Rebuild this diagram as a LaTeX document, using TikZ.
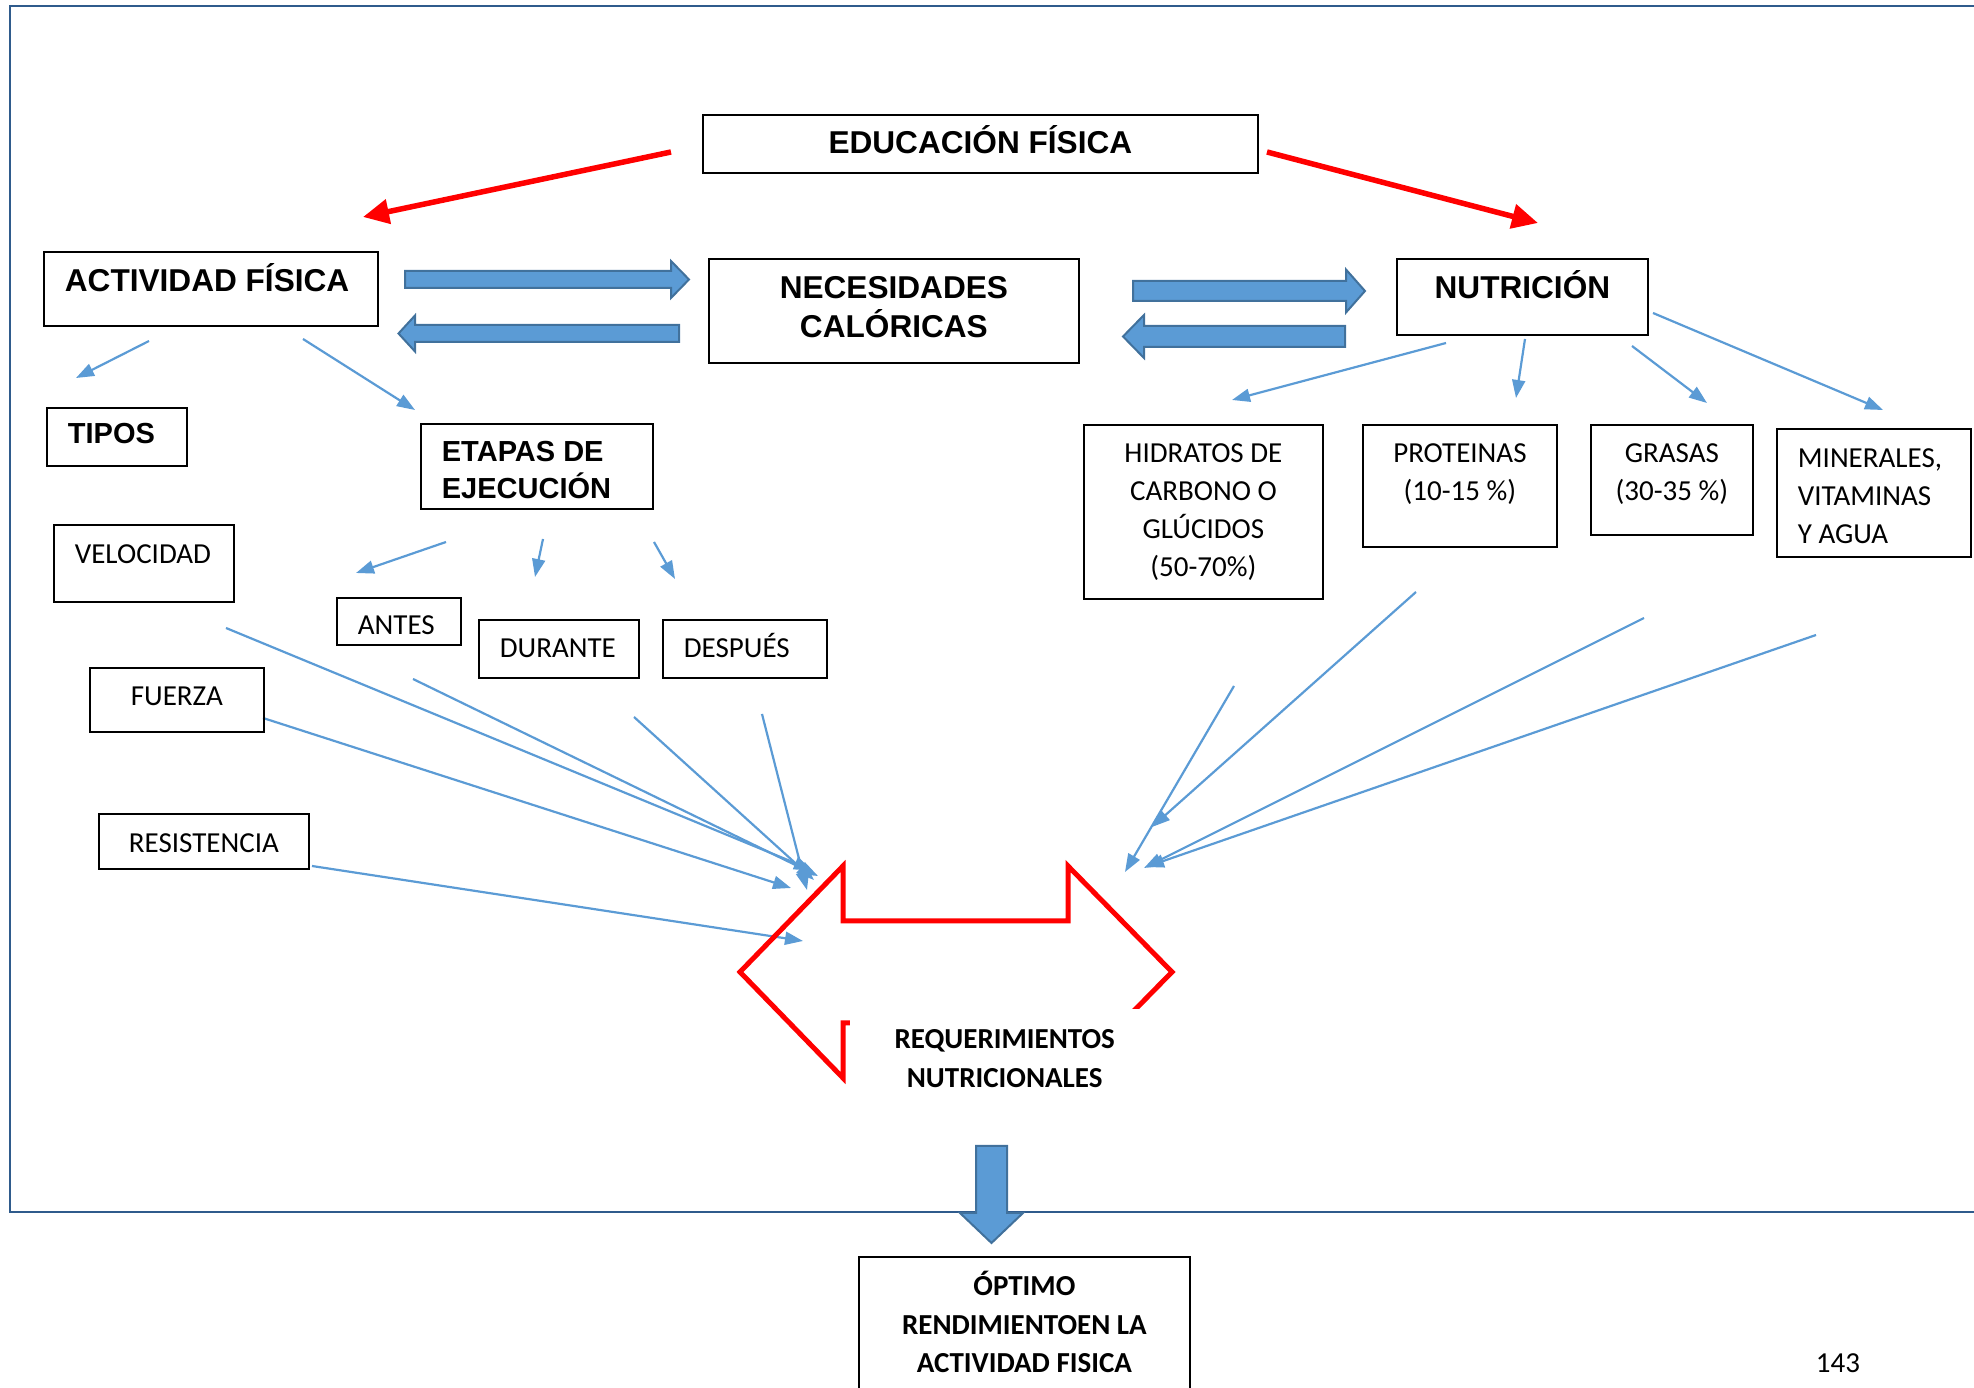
\documentclass[tikz,border=0pt]{standalone}
\usepackage{fontspec}
\setmainfont{Carlito}
\newfontfamily\arialfam{Liberation Sans}
\usetikzlibrary{arrows.meta}
\definecolor{azul}{HTML}{5B9BD5}
\definecolor{azulosc}{HTML}{41719C}
\definecolor{marco}{HTML}{2F5B8C}

\tikzset{
  caja/.style={draw, line width=0.18mm, anchor=north west, inner xsep=2.1mm, inner ysep=0pt},
  arialb/.style={font={\fontsize{3.16mm}{#1}\selectfont\arialfam\bfseries}},
  arialb/.default=3.9mm,
  arialp/.style={font={\fontsize{2.9mm}{#1}\selectfont\arialfam\bfseries}},
  arialp/.default=3.65mm,
  calib/.style={font={\fontsize{2.9mm}{#1}\selectfont}},
  calib/.default=3.8mm,
  calibb/.style={font={\fontsize{2.9mm}{#1}\selectfont\bfseries}},
  calibb/.default=3.85mm,
  flecha/.style={draw=azul, line width=0.22mm, -{Triangle[length=1.8mm,width=1.3mm]}},
  roja/.style={draw=red, line width=0.55mm, -{Triangle[length=2.6mm,width=2.4mm]}},
  bloque/.style={draw=azulosc, fill=azul, line width=0.2mm}
}

\begin{document}
\begin{tikzpicture}[x=0.1mm, y=-0.1mm]
  \useasboundingbox (0,0) rectangle (1974,1388);
  \clip (0,0) rectangle (1974,1388);
  % marco de la pagina
  \draw[marco, line width=0.28mm] (1974,6) -| (10,1212) -- (1974,1212);

  % flechas finas
  \foreach \i/\xa/\ya/\xb/\yb in {
    1/149/341/76/378, 2/303/339/415/410, 3/446/542/356/573, 4/543/539/535/577,
    5/654/542/675/579, 6/1446/343/1232/400, 7/1525/339/1516/398,
    8/1632/346/1707/403, 9/1653/313/1883/410,
    10/226/628/812/870, 11/413/679/818/876, 12/634/717/814/880, 13/762/714/807/890,
    14/263/718/791/888, 15/312/866/803/941,
    16/1234/686/1125/872, 17/1416/592/1152/827, 18/1644/618/1144/868, 19/1816/635/1146/867
  } {
    \coordinate (s\i) at (\xa,\ya);
    \coordinate (e\i) at (\xb,\yb);
    \draw[flecha] (s\i) -- (e\i);
  }

  % flecha doble de los requerimientos
  \draw[red, line width=0.5mm] (740,972) -- (843,866) -- (843,921) -- (1068,921) -- (1068,866)
    -- (1172,972) -- (1068,1078) -- (1068,1023) -- (843,1023) -- (843,1078) -- cycle;
  \node[fill=white, anchor=north west, inner xsep=2.1mm, inner ysep=0pt, calibb,
        text width=26.8mm, align=flush center, text height=4mm, text depth=5.2mm] (req) at (849,1008)
        {REQUERIMIENTOS\\NUTRICIONALES};

  % cajas
  \node[caja, arialb, text width=51.3mm, align=flush center, text height=3.9mm, text depth=1.9mm] (edu) at (702,114) {EDUCACIÓN FÍSICA};
  \node[caja, arialb, text width=29.2mm, align=flush left, text height=4mm, text depth=3.4mm] (act) at (43,251) {ACTIVIDAD FÍSICA};
  \node[caja, arialb, text width=32.8mm, align=flush center, text height=4mm, text depth=6.4mm] (nec) at (708,258) {NECESIDADES\\CALÓRICAS};
  \node[caja, arialb, text width=20.9mm, align=flush center, text height=4mm, text depth=3.6mm] (nut) at (1396,258) {NUTRICIÓN};
  \node[caja, arialp, text width=9.8mm, align=flush left, text height=3.6mm, text depth=2.2mm] (tipos) at (46,407) {TIPOS};
  \node[caja, arialp, text width=19mm, align=flush left, text height=3.8mm, text depth=4.7mm] (etapas) at (420,423) {ETAPAS DE\\EJECUCIÓN};

  \node[caja, calib, text width=13.8mm, align=flush left, text height=3.9mm, text depth=3.8mm] (velo) at (53,524) {VELOCIDAD};
  \node[caja, calib, text width=8.2mm, align=flush left, text height=3.7mm, text depth=1mm] (antes) at (336,597) {ANTES};
  \node[caja, calib, text width=11.8mm, align=flush left, text height=3.8mm, text depth=2mm] (dur) at (478,619) {DURANTE};
  \node[caja, calib, text width=12.2mm, align=flush left, text height=3.8mm, text depth=2mm] (desp) at (662,619) {DESPUÉS};
  \node[caja, calib, text width=13.2mm, align=flush center, text height=3.8mm, text depth=2.6mm] (fuer) at (89,667) {FUERZA};
  \node[caja, calib, text width=16.8mm, align=flush center, text height=3.9mm, text depth=1.6mm] (resis) at (98,813) {RESISTENCIA};

  \node[caja, calib, text width=19.7mm, align=flush center, text height=3.8mm, text depth=13.6mm] (hidr) at (1083,424) {HIDRATOS DE\\CARBONO O\\GLÚCIDOS\\(50-70\%)};
  \node[caja, calib, text width=15.2mm, align=flush center, text height=3.8mm, text depth=8.4mm] (prot) at (1362,424) {PROTEINAS\\(10-15 \%)};
  \node[caja, calib, text width=12mm, align=flush center, text height=3.8mm, text depth=7.2mm] (gras) at (1590,424) {GRASAS\\(30-35 \%)};
  \node[caja, calib, text width=15.2mm, align=flush left, text height=3.9mm, text depth=8.9mm] (mine) at (1776,428) {MINERALES,\\VITAMINAS\\Y AGUA};

  \node[caja, calibb, text width=28.9mm, align=flush center, text height=3.9mm, text depth=14mm] (opt) at (858,1256) {ÓPTIMO\\RENDIMIENTOEN LA\\ACTIVIDAD FISICA};
  \node[calib, anchor=base] (pag) at (1838,1373) {143};

  % flechas gruesas (cola, base de la punta, punta, y, medio cuerpo, media punta)
  \foreach \a/\c/\b/\y/\s/\h in {405/671/689/279.5/8.5/18.5, 679/415/398.5/333.5/8.5/18,
                                  1133/1346/1365/291/10/21.5, 1345/1144/1123/336.5/10.5/21.5}
    \filldraw[bloque] (\a,\y-\s) -- (\c,\y-\s) -- (\c,\y-\h) -- (\b,\y)
      -- (\c,\y+\h) -- (\c,\y+\s) -- (\a,\y+\s) -- cycle;
  \filldraw[bloque] (976,1146) -- (1007,1146) -- (1007,1213) -- (1023,1213) -- (991.5,1243)
    -- (960,1213) -- (976,1213) -- cycle;

  % flechas rojas
  \coordinate (r1) at (671,152);
  \coordinate (r2) at (363,217);
  \coordinate (r3) at (1267,152);
  \coordinate (r4) at (1538,223);
  \draw[roja] (r1) -- (r2);
  \draw[roja] (r3) -- (r4);
\end{tikzpicture}
\end{document}
